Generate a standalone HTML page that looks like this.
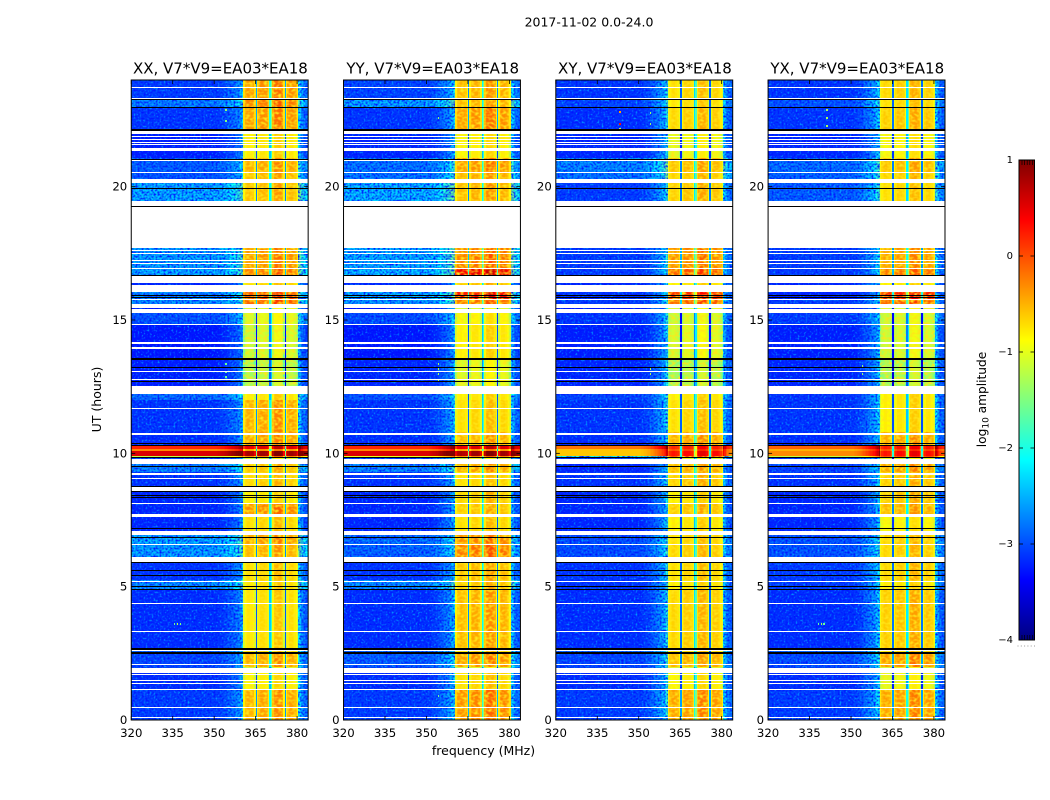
<!DOCTYPE html>
<html>
<head>
<meta charset="utf-8">
<title>2017-11-02 0.0-24.0</title>
<style>
html,body{margin:0;padding:0;background:#fff;}
#figure{display:block;width:1050px;height:800px;font-family:"DejaVu Sans","Liberation Sans",sans-serif;fill:#000;}
</style>
</head>
<body>
<svg id="figure" xmlns="http://www.w3.org/2000/svg" width="1050" height="800" viewBox="0 0 1050 800">
  <defs>
    <filter id="noise-light" x="0" y="0" width="100%" height="100%" color-interpolation-filters="sRGB">
      <feTurbulence type="fractalNoise" baseFrequency="0.5" numOctaves="1" seed="4"/>
      <feColorMatrix type="matrix" values="0 0 0 0 0  0 0 0 0 0.7  0 0 0 0 1  2.5 0 0 0 -1.22"/>
    </filter>
    <filter id="noise-dark" x="0" y="0" width="100%" height="100%" color-interpolation-filters="sRGB">
      <feTurbulence type="fractalNoise" baseFrequency="0.5" numOctaves="1" seed="11"/>
      <feColorMatrix type="matrix" values="0 0 0 0 0  0 0 0 0 0.08  0 0 0 0 1  2.5 0 0 0 -0.95"/>
    </filter>
    <filter id="noise-band" x="0" y="0" width="100%" height="100%" color-interpolation-filters="sRGB">
      <feTurbulence type="fractalNoise" baseFrequency="0.28 0.4" numOctaves="1" seed="7"/>
      <feColorMatrix type="matrix" values="0 0 0 0 1  0 0 0 0 0.9  0 0 0 0 0.1  3 0 0 0 -1.25"/>
    </filter>
  </defs>
  <text x="589" y="26.5" text-anchor="middle" font-size="12.5">2017-11-02 0.0-24.0</text>
  <text x="483.5" y="755" text-anchor="middle" font-size="12.5">frequency (MHz)</text>
  <text transform="translate(101 399.5) rotate(-90)" text-anchor="middle" font-size="12.5">UT (hours)</text>
  <text transform="translate(986 399.5) rotate(-90)" text-anchor="middle" font-size="12.2">log<tspan font-size="9" dy="2.5">10</tspan><tspan dy="-2.5"> amplitude</tspan></text>
  <g id="panels"></g>
  <g id="colorbar"></g>
</svg>
<script>
// Panels
const panelNames = ['XX', 'YY', 'XY', 'YX'];
const baselineLabel = 'V7*V9=EA03*EA18';

// Axis ticks
const freqTicks = [320, 335, 350, 365, 380];
const hourTicks = [0, 5, 10, 15, 20];
const cbarTicks = [1, 0, -1, -2, -3, -4];

// Scan boundaries (UT hours, descending); each pair bounds one scan segment
const scanBoundaries = [24,23.29,22.99,22.13,21.08,20.55,20.14,19.46,17.70,16.95,16.69,16.39,16.05,15.79,15.60,15.26,14.85,13.58,12.53,12.23,12,10.80,10.28,10.16,10.09,9.90,9.83,9.60,9.30,8.59,8.14,7.73,7.61,6.94,6.60,6.11,5.93,5.25,4.91,2.70,2.48,1.99,1.80,1.16,0];

// Out-of-band log10 amplitude per segment
const lowXX = [-3.05,-2.65,-3.1,-3.25,-2.85,-2.9,-2.4,-3,-2.45,-2.4,-3,-3.2,-2.6,-2.55,-3.3,-2.9,-3.3,-3.25,-3,-2.75,-3.1,-3.15,0.2,-0.3,0.55,-1.2,-3,-2.6,-3.1,-3.2,-3.2,-3.2,-3.2,-2.4,-2.45,-3,-3.1,-2.55,-3.15,-2.8,-3,-3,-3.15,-3.05];
const lowYY = [-3.0,-2.45,-3.1,-3.2,-2.7,-2.7,-2.35,-3,-2.4,-2.3,-3,-3.2,-2.4,-2.5,-3.3,-2.95,-3.3,-3.2,-3,-2.9,-3.1,-3.15,0.2,-0.3,0.55,-1,-3,-2.6,-3.1,-3.2,-3.2,-3.2,-3.2,-2.75,-2.8,-3,-3.1,-2.55,-3.15,-2.8,-2.85,-3,-3.15,-3.05];
const lowXY = [-3.1,-3.0,-3.15,-3.2,-2.6,-2.7,-3.05,-3,-3.05,-3.05,-3,-3.2,-3.1,-3.05,-3.3,-3.1,-3.25,-3.2,-3,-3.0,-3.1,-3.15,-0.2,-0.6,-0.6,-2,-3,-3.2,-3.1,-3.2,-3.2,-3.2,-3.2,-2.95,-2.95,-3,-3.1,-3.1,-3.15,-2.8,-3,-3,-3.15,-3.05];
const lowYX = [-3.1,-2.9,-3.1,-3.2,-2.75,-2.8,-2.85,-3,-3.05,-3.05,-3,-3.2,-3.2,-3.05,-3.3,-3.05,-3.25,-3.2,-3,-3.1,-3.1,-3.15,-0.1,-0.5,-0.3,-1.2,-3,-3.0,-3.1,-3.2,-3.2,-3.2,-3.2,-2.9,-2.9,-3,-3.05,-3.05,-3.15,-2.8,-2.95,-3,-3.15,-3.05];

// In-band log10 amplitude per segment
const highXX = [-0.25,-0.15,-0.25,-0.7,-0.35,-0.45,-0.45,-1,-0.25,-0.1,-1,-0.6,0.1,0,-1,-0.95,-1.05,-1.2,-1,-0.7,-0.35,-0.3,0.6,-0.3,0.9,-0.2,-1,-0.5,-0.55,-0.7,-0.2,-0.5,-0.6,-0.3,-0.4,-1,-0.6,-0.65,-0.65,-0.6,-0.35,-1,-0.75,-0.35];
const highYY = [-0.4,-0.4,-0.25,-0.75,-0.25,-0.4,-0.4,-1,-0.1,0.55,-1,-0.5,0.45,-0.1,-1,-0.8,-0.7,-0.95,-1,-0.7,-0.6,-0.4,0.6,-0.3,0.9,-0.2,-1,-0.35,-0.6,-0.55,-0.5,-0.5,-0.6,-0.2,-0.1,-1,-0.45,-0.5,-0.4,-0.6,-0.25,-1,-0.6,-0.2];
const highXY = [-0.6,-0.65,-0.55,-0.9,-0.45,-0.55,-0.5,-1,-0.2,0.05,-1,-0.7,0.25,0,-1,-1.05,-1,-1.25,-1,-0.7,-0.6,-0.35,0.3,0.1,0.4,0.1,-1,-0.4,-0.5,-0.7,-0.5,-0.5,-0.7,-0.6,-0.55,-1,-0.6,-0.7,-0.55,-0.6,-0.4,-1,-0.75,-0.3];
const highYX = [-0.55,-0.6,-0.5,-0.8,-0.45,-0.55,-0.6,-1,-0.3,-0.1,-1,-0.7,0.3,0,-1,-1.05,-1.05,-1.25,-1,-0.7,-0.7,-0.35,0.35,0.1,0.4,0.1,-1,-0.3,-0.5,-0.5,-0.4,-0.5,-0.8,-0.55,-0.55,-1,-0.55,-0.7,-0.5,-0.6,-0.25,-1,-0.9,-0.3];

// Frequency response: lift below the band (350–360 MHz, 0.5 MHz channels)
const rampFreqs = [350,350.5,351,351.5,352,352.5,353,353.5,354,354.5,355,355.5,356,356.5,357,357.5,358,358.5,359,359.5,360];
const rampLift = [0,0,0.03,0.05,0.08,0.1,0.12,0.15,0.2,0.25,0.3,0.35,0.4,0.45,0.5,0.55,0.6,0.7,0.8,0.9,1.2];
const rampScale = [0.7, 0.9, 1, 1];

// In-band offset relative to the segment level (360.5–380 MHz)
const bandFreqs = [360.5,361,361.5,362,362.5,363,363.5,364,364.5,365,365.5,366,366.5,367,367.5,368,368.5,369,369.5,370,370.5,371,371.5,372,372.5,373,373.5,374,374.5,375,375.5,376,376.5,377,377.5,378,378.5,379,379.5,380];
const bandOffset = [-0.45,-0.2,-0.15,-0.1,-0.1,-0.15,-0.15,-0.2,-0.45,-2.3,-0.4,-0.15,-0.05,-0.05,-0.05,-0.05,-0.1,-0.15,-0.4,-1.7,-1.2,-0.2,0.05,0.1,0.1,0.1,0.1,0.05,-0.05,-0.5,-2.3,-0.5,-0.15,-0.05,-0.05,-0.05,-0.1,-0.15,-0.25,-0.5];

// Lift above the band (380.5–384 MHz)
const tailFreqs = [380.5,381,381.5,382,382.5,383,383.5];
const tailLift = [1.0,0.8,0.55,0.4,0.35,0.3,0.3];

// Flagged (blank) time ranges, [later hour, earlier hour]
const flaggedRanges = [[23.74,23.70],[23.33,23.29],[22.09,21.98],[21.90,21.86],[21.79,21.75],[21.68,21.64],[21.60,21.56],[21.45,21.34],[21.04,20.96],[20.55,20.51],[20.29,20.14],[19.46,17.70],[17.63,17.59],[17.51,17.48],[17.25,17.21],[17.14,17.10],[16.95,16.91],[16.69,16.39],[16.31,16.05],[15.94,15.90],[15.86,15.83],[15.79,15.75],[15.60,15.45],[15.41,15.26],[14.85,14.81],[14.18,14.10],[13.99,13.91],[13.09,13.05],[12.79,12.75],[12.53,12.23],[11.70,11.66],[10.76,10.69],[9.79,9.60],[9.26,9.19],[9.08,9.04],[8.74,8.59],[8.44,8.40],[8.14,8.10],[7.73,7.61],[7.09,6.94],[6.60,6.56],[6.11,5.93],[5.21,5.18],[4.39,4.35],[3.34,3.30],[2.63,2.59],[2.10,2.06],[1.95,1.76],[1.73,1.69],[1.50,1.46],[1.39,1.35],[1.16,1.13],[0.49,0.45],[0.11,0.08]];

// Dead (black) integrations, hours
const deadScans = [23.29,22.99,22.16,22.13,21.04,19.95,19.28,16.69,15.94,15.86,13.58,13.54,13.24,12.71,10.39,10.31,9.86,9.53,8.78,8.59,8.44,8.36,7.20,6.86,5.93,5.63,5.44,5.03,4.91,2.70,2.66,2.55,2.51];

// Narrow-band interference: panel index, frequency, hour, log10 amplitude
const spikePanels = [0,0,0,0,0,0,0,0,1,1,1,1,1,1,2,2,2,2,2,2,2,3,3,3,3,3,3,3,3];
const spikeFreqs = [354,354,354,354,354,335.5,336.5,337.5,354,354,354,354,354,354,343,343,343,354,354,354,354,341,341,341,354,354,338,339,340];
const spikeHours = [22.9,22.5,13.4,13.1,12.9,3.65,3.65,3.65,22.6,13.4,13.2,13.0,12.8,0.95,22.85,22.4,22.2,22.8,22.4,13.2,13.0,22.9,22.6,22.3,13.3,13.0,3.65,3.65,3.65];
const spikeValues = [-1.4,-1.5,-1.6,-1.6,-1.6,-1.6,-1.2,-1.5,-1.4,-1.3,-1.3,-1.3,-1.3,-1.6,-0.4,0.3,-1.2,-1.4,-1.4,-1.3,-1.3,-1.3,-1.3,-1.3,-1.4,-1.4,-1.6,-1.3,-1.6];

// Colour scale limits
const cbarLimits = [-4, 1];
const freqLimits = [320, 384];
const hourLimits = [0, 24];

const SVG_NS = 'http://www.w3.org/2000/svg';
const panelLeft = [131.25, 343.53, 555.81, 768.09];
const panelWidth = 176.9;
const plotTop = 80;
const plotBottom = 720;

const lowByPanel = [lowXX, lowYY, lowXY, lowYX];
const highByPanel = [highXX, highYY, highXY, highYX];

function make(tag, attrs, parent) {
  const el = document.createElementNS(SVG_NS, tag);
  for (const k in attrs) el.setAttribute(k, attrs[k]);
  parent.appendChild(el);
  return el;
}

function jet(v) {
  const t = Math.max(0, Math.min(1, (v - cbarLimits[0]) / (cbarLimits[1] - cbarLimits[0])));
  const ch = (c) => Math.round(255 * Math.max(0, Math.min(1, 1.5 - Math.abs(4 * t - c))));
  return 'rgb(' + ch(3) + ',' + ch(2) + ',' + ch(1) + ')';
}

function yScale(h) {
  return Math.round(plotBottom - (h - hourLimits[0]) / (hourLimits[1] - hourLimits[0]) * (plotBottom - plotTop));
}

function tickY(h) {
  return plotBottom - (h - hourLimits[0]) / (hourLimits[1] - hourLimits[0]) * (plotBottom - plotTop);
}

function xScale(panel, f) {
  return panelLeft[panel] + (f - freqLimits[0]) / (freqLimits[1] - freqLimits[0]) * panelWidth;
}

function cell(parent, panel, f0, f1, yTop, yBot, value) {
  const x0 = Math.round(xScale(panel, f0));
  const x1 = Math.round(xScale(panel, f1));
  const r = make('rect', {x: x0, y: yTop, width: Math.max(x1 - x0, 1), height: yBot - yTop, fill: jet(value), 'shape-rendering': 'crispEdges'}, parent);
  
  
}

function drawSegment(g, p, s) {
  const low = lowByPanel[p];
  const high = highByPanel[p];
  const yTop = yScale(scanBoundaries[s]);
  const yBot = yScale(scanBoundaries[s + 1]);
  cell(g, p, freqLimits[0], rampFreqs[0], yTop, yBot, low[s]);
  rampFreqs.forEach((f, i) => {
    cell(g, p, f, f + 0.5, yTop, yBot, low[s] + rampLift[i] * rampScale[p]);
  });
  bandFreqs.forEach((f, i) => {
    cell(g, p, f, f + 0.5, yTop, yBot, high[s] + bandOffset[i]);
  });
  tailFreqs.forEach((f, i) => {
    cell(g, p, f, f + 0.5, yTop, yBot, low[s] + tailLift[i]);
  });
}

function drawPanel(p, root) {
  const g = make('g', {}, root);
  
  

  const low = lowByPanel[p];
  const left = xScale(p, freqLimits[0]);
  const right = xScale(p, freqLimits[1]);

  for (let s = 0; s < scanBoundaries.length - 1; s++) {
    drawSegment(g, p, s);
  }

  // Receiver noise texture on the out-of-band channels
  const nx = Math.round(left);
  const nw = Math.round(xScale(p, bandFreqs[0])) - nx;
  const tx = Math.round(xScale(p, tailFreqs[0]));
  const tw = Math.round(right) - tx;
  [[nx, nw], [tx, tw]].forEach((span) => {
    const a = make('rect', {x: span[0], y: plotTop, width: span[1], height: plotBottom - plotTop, filter: 'url(#noise-light)'}, g);
    
    
    const b = make('rect', {x: span[0], y: plotTop, width: span[1], height: plotBottom - plotTop, filter: 'url(#noise-dark)'}, g);
    
    
  });

  // Mottled texture inside the band
  const bx = Math.round(xScale(p, bandFreqs[0]));
  const bw = tx - bx;
  const bt = make('rect', {x: bx, y: plotTop, width: bw, height: plotBottom - plotTop, filter: 'url(#noise-band)'}, g);
  
  

  // Saturated interference rows stay clean
  for (let s = 0; s < scanBoundaries.length - 1; s++) {
    if (low[s] > -1.5) drawSegment(g, p, s);
  }

  // Stripes between sub-bands stay sharp over the texture
  for (let s = 0; s < scanBoundaries.length - 1; s++) {
    const yTop = yScale(scanBoundaries[s]);
    const yBot = yScale(scanBoundaries[s + 1]);
    bandFreqs.forEach((f, i) => {
      if (bandOffset[i] < -1) cell(g, p, f, f + 0.5, yTop, yBot, highByPanel[p][s] + bandOffset[i]);
    });
  }

  spikePanels.forEach((sp, i) => {
    if (sp !== p) return;
    const y = yScale(spikeHours[i]);
    cell(g, p, spikeFreqs[i], spikeFreqs[i] + 0.5, y, y + 2, spikeValues[i]);
  });

  flaggedRanges.forEach((r) => {
    const y0 = yScale(r[0]);
    const y1 = yScale(r[1]);
    const w = make('rect', {x: Math.round(left), y: y0, width: Math.round(right) - Math.round(left), height: y1 - y0, fill: '#fff', 'shape-rendering': 'crispEdges'}, g);
    
    
  });

  deadScans.forEach((h) => {
    const y = yScale(h);
    const k = make('rect', {x: Math.round(left), y: y, width: Math.round(right) - Math.round(left), height: 1, fill: '#000', 'shape-rendering': 'crispEdges'}, g);
    
    
  });

  const frame = make('rect', {x: left, y: plotTop, width: panelWidth, height: plotBottom - plotTop, fill: 'none', stroke: '#000', 'stroke-width': 1}, g);
  
  

  freqTicks.forEach((f) => {
    const x = xScale(p, f);
    [[plotBottom, plotBottom - 4], [plotTop, plotTop + 4]].forEach((ends) => {
      const t = make('line', {x1: x, x2: x, y1: ends[0], y2: ends[1], stroke: '#000', 'stroke-width': 0.8}, g);
      
      
    });
    const lab = make('text', {x: x, y: 737, 'text-anchor': 'middle', 'font-size': 11.7}, g);
    lab.textContent = f;
    
    
  });

  hourTicks.forEach((h) => {
    const y = tickY(h);
    [[left, left + 4], [right, right - 4]].forEach((ends) => {
      const t = make('line', {x1: ends[0], x2: ends[1], y1: y, y2: y, stroke: '#000', 'stroke-width': 0.8}, g);
      
      
    });
    const lab = make('text', {x: left - 4, y: y + 4, 'text-anchor': 'end', 'font-size': 11.7}, g);
    lab.textContent = h;
    
    
  });

  const title = make('text', {x: left + panelWidth / 2 + 0.7, y: 73.5, 'text-anchor': 'middle', 'font-size': 15}, g);
  title.textContent = panelNames[p] + ', ' + baselineLabel;
  
  
}

function drawColorbar(root) {
  const x0 = 1019, x1 = 1034.5, y0 = 160, y1 = 640;
  const vToY = (v) => y1 - (v - cbarLimits[0]) / (cbarLimits[1] - cbarLimits[0]) * (y1 - y0);
  for (let y = y0; y < y1; y++) {
    const v = cbarLimits[1] - (y - y0 + 0.5) / (y1 - y0) * (cbarLimits[1] - cbarLimits[0]);
    const r = make('rect', {x: x0, y: y, width: x1 - x0, height: 1, fill: jet(v), 'shape-rendering': 'crispEdges'}, root);
    
    
  }
  const outline = make('rect', {x: x0, y: y0, width: x1 - x0, height: y1 - y0, fill: 'none', stroke: '#000', 'stroke-width': 1}, root);
  
  

  cbarTicks.forEach((v) => {
    const y = vToY(v);
    if (v > cbarLimits[0] && v < cbarLimits[1]) {
      [[x0, x0 + 4], [x1, x1 - 4]].forEach((ends) => {
        const t = make('line', {x1: ends[0], x2: ends[1], y1: y, y2: y, stroke: '#000', 'stroke-width': 0.8}, root);
        
        
      });
    }
    const lab = make('text', {x: 1013, y: y + 3, 'text-anchor': 'end', 'font-size': 10}, root);
    lab.textContent = v < 0 ? '\u2212' + Math.abs(v) : v;
    
    
  });

  [1022, 1024.6, 1027.2, 1029.8, 1032.4].forEach((x) => {
    [[y0, y0 + 5], [y1, y1 - 5]].forEach((ends) => {
      const t = make('line', {x1: x, x2: x, y1: ends[0], y2: ends[1], stroke: '#000', 'stroke-width': 0.7}, root);
      
      
    });
  });

  const dots = make('line', {x1: 1017.5, x2: 1035, y1: 646, y2: 646, stroke: '#999', 'stroke-width': 1, 'stroke-dasharray': '1 2.3'}, root);
  
  
}

const panelsRoot = document.getElementById('panels');
panelNames.forEach((_, p) => drawPanel(p, panelsRoot));
drawColorbar(document.getElementById('colorbar'));
</script>
</body>
</html>
